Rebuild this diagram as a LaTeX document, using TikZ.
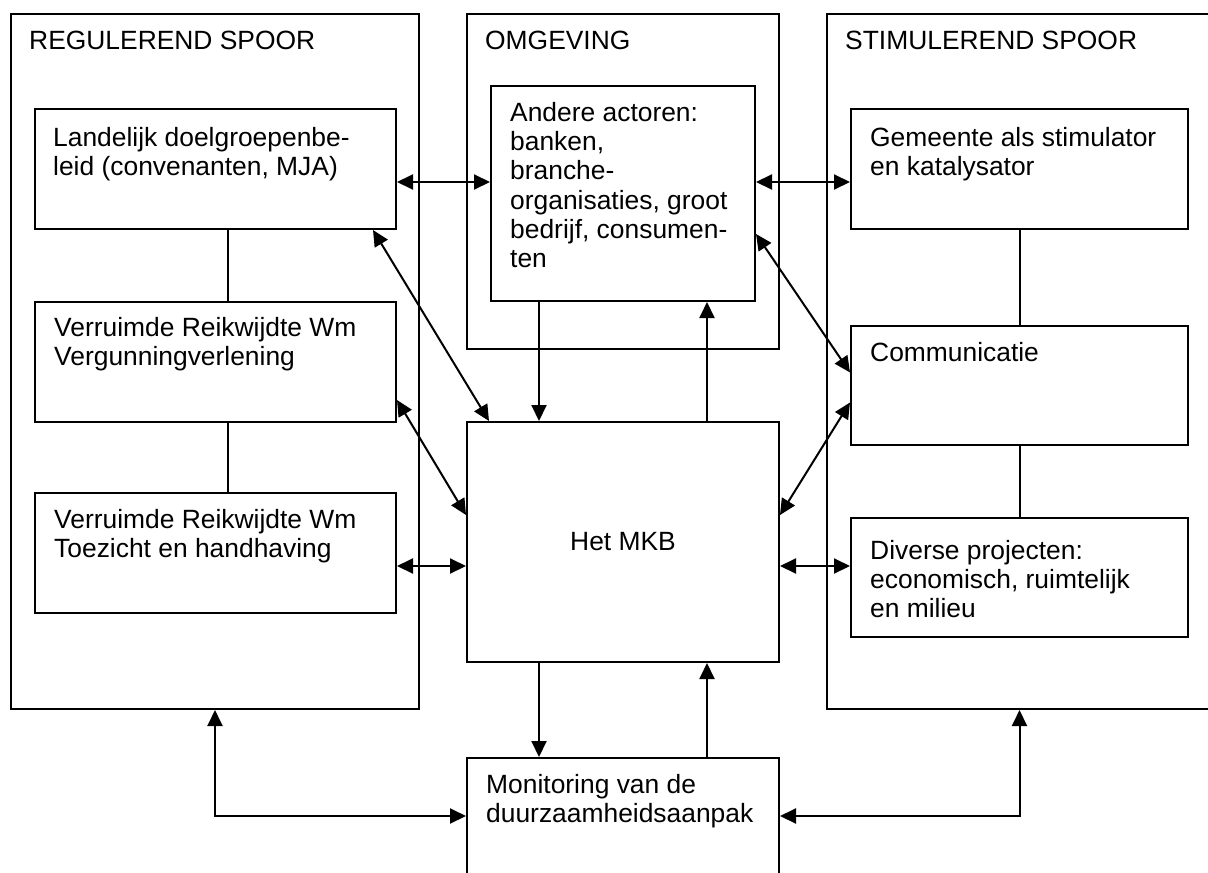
\documentclass[tikz,border=0pt]{standalone}
\usepackage{fontspec}
\setmainfont{Liberation Sans}
\usetikzlibrary{arrows.meta,positioning}

\begin{document}
\begin{tikzpicture}[x=1pt,y=-1pt,
    box/.style={draw,line width=2pt,inner sep=0pt},
    lbl/.style={anchor=north west,inner sep=0pt,align=left,font=\fontsize{26.4}{29.3}\selectfont},
    con/.style={line width=2pt},
    arr/.style={line width=2pt,-{Triangle[length=16pt,width=15pt]}},
    dbl/.style={line width=2pt,{Triangle[length=16pt,width=15pt]}-{Triangle[length=16pt,width=15pt]}}]
    \useasboundingbox (0,0) rectangle (1208,873);
    \clip (0,0) rectangle (1208,873);

    % columns
    \node[box,minimum width=408,minimum height=695] (reg) at (215,361.5) {};
    \node[box,minimum width=312,minimum height=335] (omg) at (623,181.5) {};
    \node[box,minimum width=413,minimum height=695] (stim) at (1033.5,361.5) {};
    \node[lbl] (regtxt) at ([shift={(19,18)}]reg.north west) {REGULEREND SPOOR};
    \node[lbl] (omgtxt) at ([shift={(19,18)}]omg.north west) {OMGEVING};
    \node[lbl] (stimtxt) at ([shift={(19,18)}]stim.north west) {STIMULEREND SPOOR};

    % left
    \node[box,minimum width=361,minimum height=120] (land) at (215.5,169) {};
    \node[box,minimum width=361,minimum height=120] (verg) at (215.5,362) {};
    \node[box,minimum width=361,minimum height=120] (toez) at (215.5,553) {};
    \node[lbl] (landtxt) at ([shift={(19,19)}]land.north west) {Landelijk doelgroepenbe-\\leid (convenanten, MJA)};
    \node[lbl] (vergtxt) at ([shift={(20,16)}]verg.north west) {Verruimde Reikwijdte Wm\\Vergunningverlening};
    \node[lbl] (toeztxt) at ([shift={(20,17)}]toez.north west) {Verruimde Reikwijdte Wm\\Toezicht en handhaving};

    % middle
    \node[box,minimum width=264,minimum height=215] (andere) at (623,193.5) {};
    \node[lbl] (anderetxt) at ([shift={(20,17)}]andere.north west) {Andere actoren:\\banken,\\branche-\\organisaties, groot\\bedrijf, consumen-\\ten};
    \node[box,minimum width=312,minimum height=240,font=\fontsize{26.4}{29.3}\selectfont] (mkb) at (623,542) {Het MKB};
    \node[box,minimum width=312,minimum height=240] (mon) at (623,878) {};
    \node[lbl] (montxt) at ([shift={(20,17)}]mon.north west) {Monitoring van de\\duurzaamheidsaanpak};

    % right
    \node[box,minimum width=337,minimum height=120] (gem) at (1019.5,169) {};
    \node[box,minimum width=337,minimum height=119] (comm) at (1019.5,385.5) {};
    \node[box,minimum width=337,minimum height=119] (div) at (1019.5,577.5) {};
    \node[lbl] (gemtxt) at ([shift={(20,19)}]gem.north west) {Gemeente als stimulator\\en katalysator};
    \node[lbl] (commtxt) at ([shift={(20,17)}]comm.north west) {Communicatie};
    \node[lbl] (divtxt) at ([shift={(20,23)}]div.north west) {Diverse projecten:\\economisch, ruimtelijk\\en milieu};

    % connectors
    \draw[con] ([xshift=12pt]land.south) -- ([xshift=12pt]verg.north);
    \draw[con] ([xshift=12pt]verg.south) -- ([xshift=12pt]toez.north);
    \draw[con] (gem) -- (comm);
    \draw[con] (comm) -- (div);
    \draw[dbl] ([yshift=-13pt]land.east) -- ([yshift=-13pt]land.east -| andere.west);
    \draw[dbl] ([yshift=-13pt]gem.west) -- ([yshift=-13pt]gem.west -| andere.east);
    \draw[dbl] ([xshift=-24pt]land.south east) -- ([xshift=23pt]mkb.north west);
    \draw[dbl] ([yshift=-38pt]verg.east) -- ([yshift=27pt]mkb.west);
    \draw[dbl] ([yshift=-13pt]toez.east) -- ([yshift=-13pt]toez.east -| mkb.west);
    \draw[arr] ([xshift=-84pt]andere.south) -- ([xshift=-84pt]mkb.north);
    \draw[arr] ([xshift=84pt]mkb.north) -- ([xshift=84pt]andere.south);
    \draw[dbl] ([yshift=68pt]andere.south east) -- ([yshift=13pt]comm.west);
    \draw[dbl] ([yshift=-17pt]comm.west) -- ([yshift=27pt]mkb.east);
    \draw[dbl] ([yshift=-24pt]mkb.east) -- ([yshift=-24pt]mkb.east -| div.west);
    \draw[arr] ([xshift=-84pt]mkb.south) -- ([xshift=-84pt]mon.north);
    \draw[arr] ([xshift=84pt]mon.north) -- ([xshift=84pt]mkb.south);
    \draw[dbl] (reg.south) |- ([yshift=-59pt]mon.north west);
    \draw[dbl] (gem.south |- stim.south) |- ([yshift=-59pt]mon.north east);
\end{tikzpicture}
\end{document}
